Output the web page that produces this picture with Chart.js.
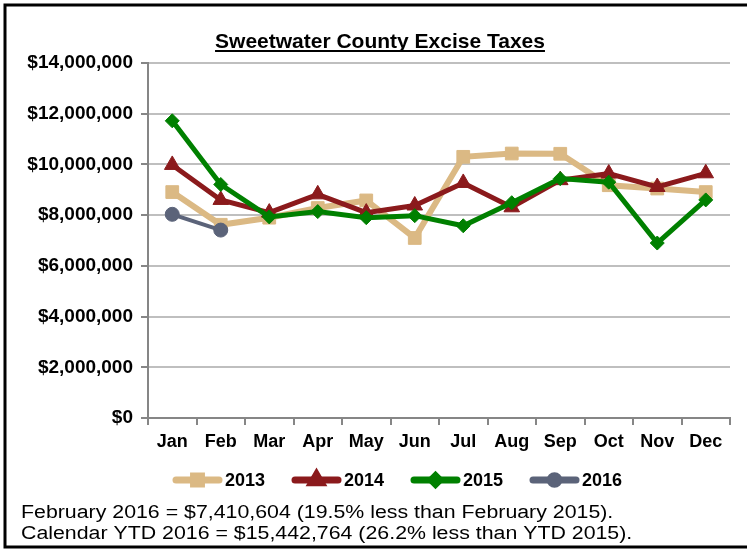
<!DOCTYPE html>
<html lang="en">
  <head>
    <meta charset="UTF-8" />
    <title>Sweetwater County Excise Taxes</title>
    <script src="https://cdn.jsdelivr.net/npm/chart.js"></script>
    <style>
      html, body { margin: 0; padding: 0; background: #fff; }
      #wrap { position: relative; width: 747px; height: 549px; }
    </style>
  </head>
  <body>
    <div id="wrap">
      <canvas id="myChart" width="747" height="549"></canvas>
    </div>

    <script>
      var months = ["Jan", "Feb", "Mar", "Apr", "May", "Jun", "Jul", "Aug", "Sep", "Oct", "Nov", "Dec"];
      var years = ["2013", "2014", "2015", "2016"];

      // monthly excise taxes
      var taxes2013 = [8910000, 7620000, 7900000, 8280000, 8580000, 7100000, 10300000, 10430000, 10420000, 9180000, 9050000, 8910000];
      var taxes2014 = [9980000, 8600000, 8100000, 8820000, 8100000, 8380000, 9270000, 8310000, 9380000, 9640000, 9110000, 9650000];
      var taxes2015 = [11720000, 9210000, 7930000, 8140000, 7900000, 7980000, 7580000, 8490000, 9440000, 9300000, 6900000, 8600000];
      var taxes2016 = [8032160, 7410604];

      var yTicks = [0, 2000000, 4000000, 6000000, 8000000, 10000000, 12000000, 14000000];

      var notes = [
        "February 2016 = $7,410,604 (19.5% less than February 2015).",
        "Calendar YTD 2016 = $15,442,764 (26.2% less than YTD 2015)."
      ];

      var colors = ["#DBB984", "#8B1A1C", "#008000", "#5B6379"];
      var FONT = "'Liberation Sans', Arial, sans-serif";

      // title, legend, notes and frame
      var decor = {
        id: "decor",
        afterDraw: function (chart) {
          var ctx = chart.ctx;
          ctx.save();

          // frame
          ctx.strokeStyle = "#000";
          ctx.lineWidth = 3;
          ctx.strokeRect(5, 5, 760, 542);

          // title
          var title = "Sweetwater County Excise Taxes";
          ctx.font = "bold 21px " + FONT;
          ctx.fillStyle = "#000";
          ctx.textAlign = "center";
          ctx.textBaseline = "alphabetic";
          ctx.fillText(title, 380, 48);
          var tw = ctx.measureText(title).width;
          ctx.fillRect(380 - tw / 2, 50, tw, 2);

          // legend
          var lx = [173, 292, 411, 530];
          var ly = 480;
          ctx.font = "bold 18px " + FONT;
          ctx.textAlign = "left";
          ctx.textBaseline = "middle";
          chart.data.datasets.forEach(function (ds, i) {
            var x = lx[i];
            ctx.strokeStyle = ds.borderColor;
            ctx.lineWidth = 7;
            ctx.lineCap = "round";
            ctx.beginPath();
            ctx.moveTo(x + 3, ly);
            ctx.lineTo(x + 46, ly);
            ctx.stroke();
            ctx.fillStyle = ds.pointBackgroundColor;
            ctx.strokeStyle = ds.pointBorderColor;
            Chart.helpers.drawPoint(ctx, {
              pointStyle: ds.pointStyle,
              radius: ds.pointRadius * 0.62,
              rotation: 0,
              borderWidth: 1
            }, x + 24.5, ly);
            ctx.fillStyle = "#000";
            ctx.fillText(ds.label, x + 52, ly + 1);
          });

          // notes (text in the original is slightly stretched sideways)
          ctx.font = "18px " + FONT;
          ctx.textBaseline = "alphabetic";
          ctx.translate(21, 0);
          ctx.scale(1.185, 1);
          ctx.fillText(notes[0], 0, 518);
          ctx.fillText(notes[1], 0, 539);
          ctx.restore();
        }
      };

      function makeSet(label, data, i, style, radius, width) {
        return {
          label: label,
          data: data,
          borderColor: colors[i],
          backgroundColor: colors[i],
          pointBackgroundColor: colors[i],
          pointBorderColor: colors[i],
          borderWidth: width,
          pointStyle: style,
          pointRadius: radius,
          pointBorderWidth: 1,
          tension: 0,
          order: 3 - i
        };
      }

      var ctx = document.getElementById("myChart").getContext("2d");
      var chart = new Chart(ctx, {
        type: "line",
        data: {
          labels: months,
          datasets: [
            makeSet(years[0], taxes2013, 0, "rect", 9, 6),
            makeSet(years[1], taxes2014, 1, "triangle", 9, 5),
            makeSet(years[2], taxes2015, 2, "rectRot", 7, 5),
            makeSet(years[3], taxes2016, 3, "circle", 7, 4)
          ]
        },
        options: {
          responsive: false,
          animation: false,
          layout: { padding: { top: 63, left: 0, right: 17, bottom: 0 } },
          plugins: {
            legend: { display: false },
            title: { display: false },
            tooltip: { enabled: false }
          },
          scales: {
            x: {
              offset: true,
              grid: {
                offset: true,
                drawOnChartArea: false,
                tickLength: 7,
                color: "#868686",
                lineWidth: 2
              },
              border: { color: "#868686", width: 2 },
              ticks: {
                color: "#000",
                font: { family: FONT, size: 18, weight: "bold" },
                padding: 6,
                maxRotation: 0
              },
              afterFit: function (scale) {
                scale.height = 549 - 418;
              }
            },
            y: {
              min: 0,
              max: 14000000,
              afterBuildTicks: function (scale) {
                scale.ticks = yTicks.map(function (v) { return { value: v }; });
              },
              grid: {
                color: "#BFBFBF",
                lineWidth: 2,
                tickLength: 7,
                tickColor: "#868686"
              },
              border: { color: "#868686", width: 2 },
              ticks: {
                color: "#000",
                font: { family: FONT, size: 19, weight: "bold" },
                padding: 8,
                callback: function (v) {
                  return "$" + Number(v).toLocaleString("en-US");
                }
              },
              afterFit: function (scale) {
                scale.width = 148;
              }
            }
          }
        },
        plugins: [decor]
      });
    </script>
  </body>
</html>
